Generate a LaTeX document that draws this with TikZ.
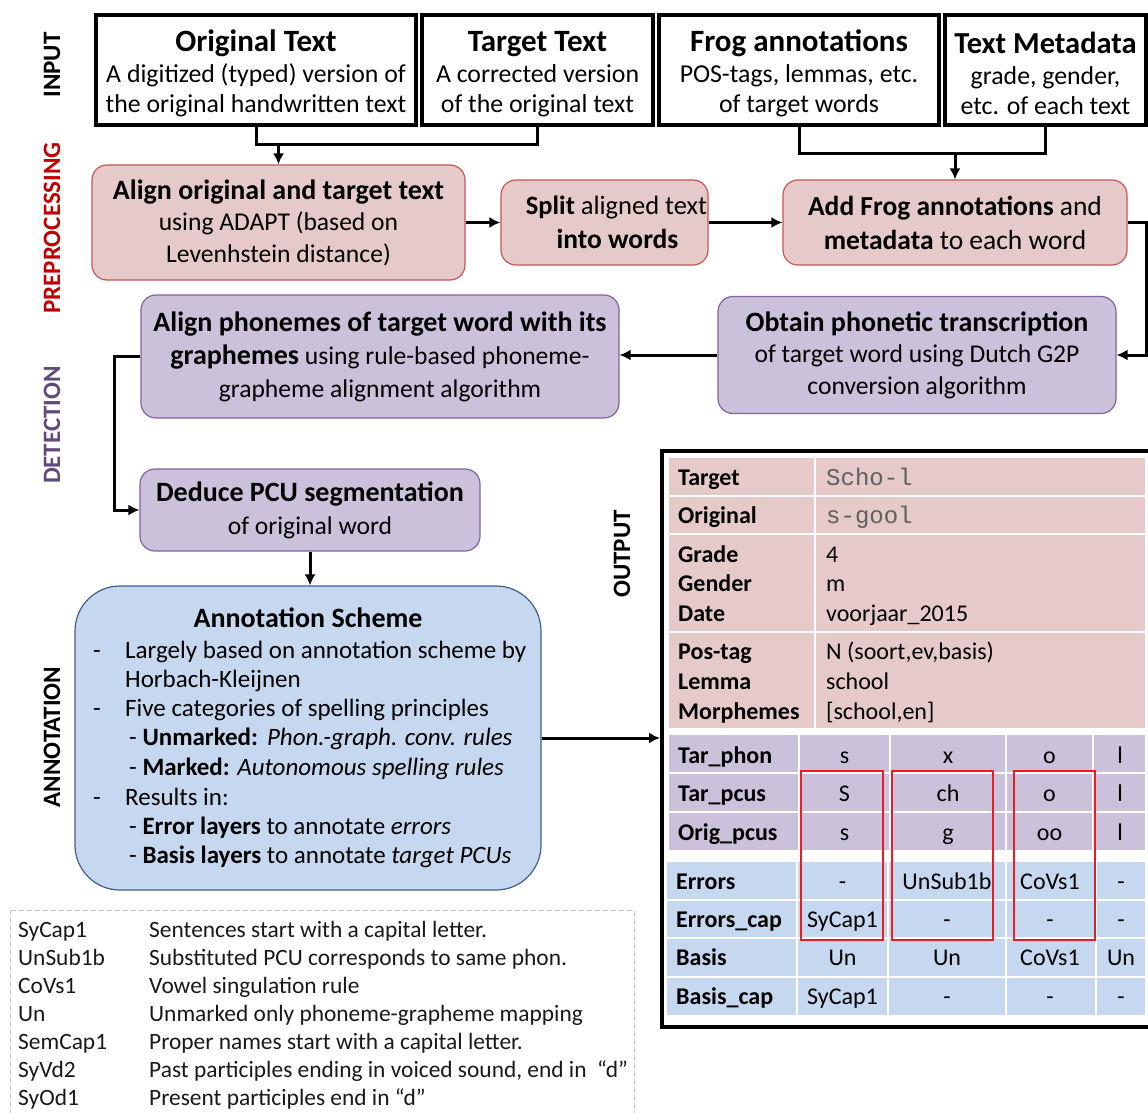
\documentclass[tikz,border=0pt]{standalone}
\usepackage{fontspec}
\setmainfont{Carlito}
\setmonofont{Liberation Mono}
\usetikzlibrary{arrows.meta,calc}
\definecolor{pinkfill}{RGB}{230,201,201}
\definecolor{pinkdraw}{RGB}{200,85,85}
\definecolor{purpfill}{RGB}{204,193,218}
\definecolor{purpdraw}{RGB}{128,100,162}
\definecolor{bluefill}{RGB}{198,216,240}
\definecolor{bluedraw}{RGB}{65,95,140}
\definecolor{prered}{RGB}{192,0,0}
\definecolor{detpurp}{RGB}{96,74,123}
\definecolor{monogray}{RGB}{95,95,95}
\definecolor{boxred}{RGB}{235,28,36}
\begin{document}
\begin{tikzpicture}[x=1pt,y=-1pt,
  inbox/.style={draw=black, line width=3.5pt, fill=white, inner sep=0pt, align=center,
     font=\fontsize{25.8}{30}\selectfont},
  pinkbox/.style={draw=pinkdraw, line width=1.2pt, fill=pinkfill, rounded corners=15pt,
     inner sep=0pt, align=center},
  purpbox/.style={draw=purpdraw, line width=1.2pt, fill=purpfill, rounded corners=15pt,
     inner sep=0pt, align=center},
  annotbox/.style={draw=bluedraw, line width=1.2pt, fill=bluefill, rounded corners=45pt,
     inner sep=0pt},
  conn/.style={line width=3pt, draw=black},
  arr/.style={line width=3pt, draw=black, -{Latex[length=11pt,width=11pt]}},
  sidelab/.style={rotate=90, font=\fontsize{25}{25}\selectfont\bfseries},
  tlab/.style={anchor=base west, inner sep=0pt, font=\fontsize{24}{24}\selectfont\bfseries},
  tval/.style={anchor=base west, inner sep=0pt, font=\fontsize{24}{24}\selectfont},
  tcell/.style={anchor=base, inner sep=0pt, font=\fontsize{24}{24}\selectfont},
  atxt/.style={anchor=base west, inner sep=0pt, font=\fontsize{25}{25}\selectfont},
  legtxt/.style={anchor=base west, inner sep=0pt, font=\fontsize{23.4}{23.4}\selectfont, text=black!90},
  redbox/.style={draw=boxred, line width=2pt}
]
\useasboundingbox (0,0) rectangle (1148,1113);
\fill[white] (0,0) rectangle (1148,1113);

% side labels
\node[sidelab] (linput) at (52,65) {INPUT};
\node[sidelab, text=prered] (lprep) at (52,228) {PREPROCESSING};
\node[sidelab, text=detpurp] (ldet) at (52,425) {DETECTION};
\node[sidelab] (lann) at (52,737) {ANNOTATION};
\node[sidelab] (lout) at (622,554) {OUTPUT};

% input boxes
\node[inbox, minimum width=320pt, minimum height=110pt] (orig) at (256,70)
  {\rule{0pt}{29pt}{\fontsize{31}{31}\selectfont\bfseries Original Text}\\[1pt]A digitized (typed) version of\\the original handwritten text};
\node[inbox, minimum width=231pt, minimum height=110pt] (targ) at (537.5,70)
  {\rule{0pt}{29pt}{\fontsize{31}{31}\selectfont\bfseries Target Text}\\[1pt]A corrected version\\of the original text};
\node[inbox, minimum width=280pt, minimum height=110pt] (frog) at (799,70)
  {\rule{0pt}{29pt}{\fontsize{31}{31}\selectfont\bfseries Frog annotations}\\[1pt]POS-tags, lemmas, etc.\\of target words};
\node[inbox, minimum width=201pt, minimum height=110pt] (meta) at (1045.5,70)
  {\rule{0pt}{29pt}{\fontsize{30.5}{31}\selectfont\bfseries Text Metadata}\\[1pt]grade, gender,\\etc. of each text};

% preprocessing
\node[pinkbox, minimum width=373pt, minimum height=115pt, font=\fontsize{25.6}{31.5}\selectfont] (align) at (278.5,222.5)
  {{\fontsize{28}{28}\selectfont\bfseries Align original and target text}\\using ADAPT (based on\\Levenhstein distance)};
\node[pinkbox, minimum width=207pt, minimum height=85pt, font=\fontsize{26.5}{34}\selectfont] (split) at (604.5,222.5)
  {\hspace*{24pt}\textbf{Split} aligned text\\\hspace*{26pt}{\fontsize{27.5}{34}\selectfont\bfseries into words}};
\node[pinkbox, minimum width=344pt, minimum height=85pt, font=\fontsize{27.5}{34}\selectfont] (add) at (955,222.5)
  {\textbf{Add Frog annotations} and\\\textbf{metadata} to each word};

% detection
\node[purpbox, minimum width=398pt, minimum height=117pt, font=\fontsize{25.6}{31.5}\selectfont] (obtain) at (917,355)
  {{\fontsize{28}{28}\selectfont\bfseries Obtain phonetic transcription}\\of target word using Dutch G2P\\conversion algorithm};
\node[purpbox, minimum width=478pt, minimum height=123pt, font=\fontsize{25.6}{33}\selectfont] (alignph) at (380,356.5)
  {{\fontsize{28}{28}\selectfont\bfseries Align phonemes of target word with its}\\{\fontsize{28}{28}\selectfont\bfseries graphemes} using rule-based phoneme-\\grapheme alignment algorithm};
\node[purpbox, minimum width=340pt, minimum height=82pt, font=\fontsize{25.6}{33}\selectfont] (deduce) at (310,510)
  {{\fontsize{28}{28}\selectfont\bfseries Deduce PCU segmentation}\\of original word};

% annotation box
\node[annotbox, minimum width=466pt, minimum height=304pt] (annot) at (308,738) {};
\node[anchor=base, inner sep=0pt, font=\fontsize{28}{28}\selectfont\bfseries] (atitle) at (308,627) {Annotation Scheme};
\node[atxt] (ad1) at (93,658) {-};
\node[atxt] (at1) at (125,658) {Largely based on annotation scheme by};
\node[atxt] (at2) at (125,687) {Horbach-Kleijnen};
\node[atxt] (ad2) at (93,716) {-};
\node[atxt] (at3) at (125,716) {Five categories of spelling principles};
\node[atxt] (at4) at (129,745) {- \textbf{Unmarked:}\hspace{9pt}\textit{Phon.-graph. conv. rules}};
\node[atxt] (at5) at (129,775) {- \textbf{Marked:} \textit{Autonomous spelling rules}};
\node[atxt] (ad3) at (93,805) {-};
\node[atxt] (at6) at (125,805) {Results in:};
\node[atxt] (at7) at (129,834) {- \textbf{Error layers} to annotate \textit{errors}};
\node[atxt] (at8) at (129,863) {- \textbf{Basis layers} to annotate \textit{target PCUs}};

% output frame
\fill[black!35] (664,453) rectangle (1152,1029);
\node[draw=black, line width=3.5pt, fill=white, anchor=north west, inner sep=0pt,
      minimum width=492pt, minimum height=576pt] (frame) at (660,449) {};

% table backgrounds
\fill[pinkfill] (669,458) rectangle (1145,728);
\draw[white, line width=2pt] (669,496) -- (1145,496) (669,534) -- (1145,534) (669,632) -- (1145,632)
   (815,458) -- (815,728);
\fill[purpfill] (669,735) rectangle (1145,850);
\draw[white, line width=2pt] (669,773) -- (1145,773) (669,812) -- (1145,812)
   (799,735) -- (799,850) (890,735) -- (890,850) (1006,735) -- (1006,850) (1093,735) -- (1093,850);
\fill[bluefill] (667,862) rectangle (1145,1015);
\draw[white, line width=2pt] (667,900) -- (1145,900) (667,938) -- (1145,938) (667,977) -- (1145,977)
   (797,862) -- (797,1015) (888,862) -- (888,1015) (1006,862) -- (1006,1015) (1096,862) -- (1096,1015);

% pink rows text
\node[tlab] (ltarget) at (678,485) {Target};
\node[tval, font=\fontsize{24}{24}\selectfont\ttfamily, text=monogray] (vtarget) at (826,485) {Scho-l};
\node[tlab] (lorig) at (678,523) {Original};
\node[tval, font=\fontsize{24}{24}\selectfont\ttfamily, text=monogray] (vorig) at (826,523) {s-gool};
\node[tlab] (lgrade) at (678,562) {Grade};
\node[tval] (vgrade) at (826,562) {4};
\node[tlab] (lgender) at (678,591) {Gender};
\node[tval] (vgender) at (826,591) {m};
\node[tlab] (ldate) at (678,621) {Date};
\node[tval] (vdate) at (826,621) {voorjaar\_2015};
\node[tlab] (lpos) at (678,659) {Pos-tag};
\node[tval] (vpos) at (826,659) {N (soort,ev,basis)};
\node[tlab] (llem) at (678,689) {Lemma};
\node[tval] (vlem) at (826,689) {school};
\node[tlab] (lmor) at (678,719) {Morphemes};
\node[tval] (vmor) at (826,719) {[school,en]};

% purple rows
\node[tlab] (ltp) at (678,763) {Tar\_phon};
\node[tcell] (tp1) at (844.5,763) {s};
\node[tcell] (tp2) at (948,763) {x};
\node[tcell] (tp3) at (1049.5,763) {o};
\node[tcell] (tp4) at (1120,763) {l};
\node[tlab] (ltc) at (678,801) {Tar\_pcus};
\node[tcell] (tc1) at (844.5,801) {S};
\node[tcell] (tc2) at (948,801) {ch};
\node[tcell] (tc3) at (1049.5,801) {o};
\node[tcell] (tc4) at (1120,801) {l};
\node[tlab] (loc) at (678,840) {Orig\_pcus};
\node[tcell] (oc1) at (844.5,840) {s};
\node[tcell] (oc2) at (948,840) {g};
\node[tcell] (oc3) at (1049.5,840) {oo};
\node[tcell] (oc4) at (1120,840) {l};

% blue rows
\node[tlab] (lerr) at (676,889) {Errors};
\node[tcell] (e1) at (842.5,889) {-};
\node[tcell] (e2) at (947,889) {UnSub1b};
\node[tcell] (e3) at (1050,889) {CoVs1};
\node[tcell] (e4) at (1121,889) {-};
\node[tlab] (lerrc) at (676,927) {Errors\_cap};
\node[tcell] (ec1) at (842.5,927) {SyCap1};
\node[tcell] (ec2) at (947,927) {-};
\node[tcell] (ec3) at (1050,927) {-};
\node[tcell] (ec4) at (1121,927) {-};
\node[tlab] (lbas) at (676,965) {Basis};
\node[tcell] (b1) at (842.5,965) {Un};
\node[tcell] (b2) at (947,965) {Un};
\node[tcell] (b3) at (1050,965) {CoVs1};
\node[tcell] (b4) at (1121,965) {Un};
\node[tlab] (lbasc) at (676,1004) {Basis\_cap};
\node[tcell] (bc1) at (842.5,1004) {SyCap1};
\node[tcell] (bc2) at (947,1004) {-};
\node[tcell] (bc3) at (1050,1004) {-};
\node[tcell] (bc4) at (1121,1004) {-};

% red highlight boxes
\draw[redbox] (801,771) rectangle (883,940);
\draw[redbox] (892,771) rectangle (993,940);
\draw[redbox] (1014,771) rectangle (1095,940);

% legend
\draw[gray!45, line width=1pt, dash pattern=on 5pt off 3pt] (10,910) rectangle (634,1125);
\node[legtxt] (lc1) at (18,937) {SyCap1};
\node[legtxt] (ld1) at (149,937) {Sentences start with a capital letter.};
\node[legtxt] (lc2) at (18,965) {UnSub1b};
\node[legtxt] (ld2) at (149,965) {Substituted PCU corresponds to same phon.};
\node[legtxt] (lc3) at (18,993) {CoVs1};
\node[legtxt] (ld3) at (149,993) {Vowel singulation rule};
\node[legtxt] (lc4) at (18,1021) {Un};
\node[legtxt] (ld4) at (149,1021) {Unmarked only phoneme-grapheme mapping};
\node[legtxt] (lc5) at (18,1049) {SemCap1};
\node[legtxt] (ld5) at (149,1049) {Proper names start with a capital letter.};
\node[legtxt] (lc6) at (18,1077) {SyVd2};
\node[legtxt] (ld6) at (149,1077) {Past participles ending in voiced sound, end in~ “d”};
\node[legtxt] (lc7) at (18,1105) {SyOd1};
\node[legtxt] (ld7) at (149,1105) {Present participles end in “d”};

% connectors
\coordinate (j1) at ($(orig.south)+(0,18)$);
\draw[conn] (orig.south) -- (j1) -| (targ.south);
\draw[arr] (align.north |- j1) -- (align.north);
\coordinate (j2) at ($(frog.south)+(0,27)$);
\draw[conn] (frog.south) -- (j2) -| (meta.south);
\draw[arr] (add.north |- j2) -- (add.north);
\draw[arr] (align.east) -- (split.west);
\draw[arr] (split.east) -- (add.west);
\coordinate (r1) at ($(add.east)+(19,0)$);
\draw[arr] (add.east) -- (r1) |- (obtain.east);
\draw[arr] (obtain.west) -- (obtain.west -| alignph.east);
\coordinate (l1) at ($(alignph.west)+(-26,0)$);
\draw[arr] (alignph.west) -- (l1) |- (deduce.west);
\draw[arr] (deduce.south) -- (deduce.south |- annot.north);
\draw[arr] (annot.east) -- (annot.east -| frame.west);
\end{tikzpicture}
\end{document}
